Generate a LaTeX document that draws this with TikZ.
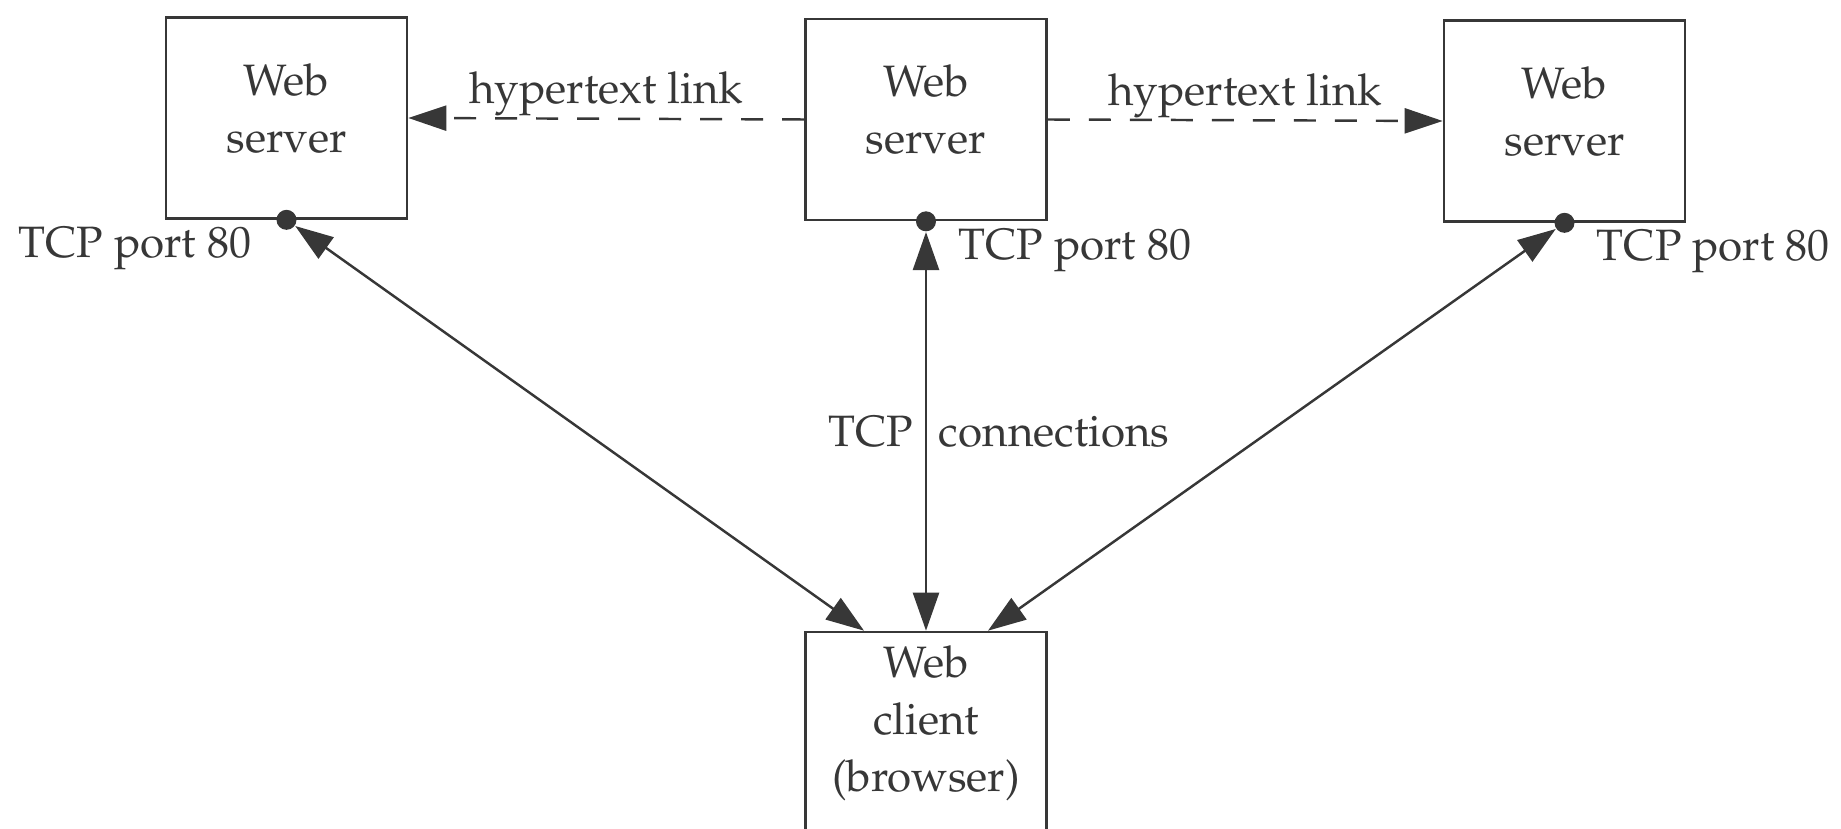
\documentclass[tikz,border=0pt]{standalone}
\usepackage[T1]{fontenc}
\usepackage{mathpazo}
\usepackage{tikz}
\usetikzlibrary{arrows.meta, positioning, calc}
\definecolor{inkgray}{RGB}{55, 55, 55}

\begin{document}
\begin{tikzpicture}[
    font=\fontsize{12.5}{16.2}\selectfont, text=inkgray,
    hostbox/.style={draw=inkgray, line width=0.75pt, minimum width=2.41cm,
                    minimum height=2.01cm, inner sep=0pt},
    hosttext/.style={align=center, anchor=north},
    port/.style={circle, fill=inkgray, inner sep=0pt, minimum size=0.2cm},
    link/.style={draw=inkgray, line width=0.7pt, dash pattern=on 0.22cm off 0.19cm,
                 -{Triangle[length=0.38cm, width=0.25cm]}},
    conn/.style={draw=inkgray, line width=0.7pt,
                 {Triangle[length=0.38cm, width=0.26cm]}-{Triangle[length=0.38cm, width=0.26cm]}}
]
    \useasboundingbox (0,0) rectangle (18.41,-8.29);
    % SERVERS (top row)
    \node[hostbox] (srvL) at (2.865,-1.18) {};
    \node[hosttext] (srvLtxt) at ([yshift=-0.35cm]srvL.north) {Web\\server};
    \node[hostbox] (srvM) at (9.26,-1.195) {};
    \node[hosttext] (srvMtxt) at ([yshift=-0.35cm]srvM.north) {Web\\server};
    \node[hostbox] (srvR) at (15.645,-1.21) {};
    \node[hosttext] (srvRtxt) at ([yshift=-0.35cm]srvR.north) {Web\\server};
    % CLIENT (bottom, runs off the page)
    \node[hostbox, minimum height=2.1cm] (client) at (9.26,-7.37) {};
    \node[hosttext] (clienttxt) at ([yshift=-0.03cm]client.north) {Web\\client\\(browser)};
    % Well-known ports
    \node[port] (portL) at (srvL.south) {};
    \node[port] (portM) at (srvM.south) {};
    \node[port] (portR) at (srvR.south) {};
    \node[anchor=base east] (tcpL) at ([xshift=-0.23cm, yshift=-0.38cm]portL.center) {TCP port 80};
    \node[anchor=base west] (tcpM) at ([xshift=0.20cm, yshift=-0.38cm]portM.center) {TCP port 80};
    \node[anchor=base west] (tcpR) at ([xshift=0.20cm, yshift=-0.38cm]portR.center) {TCP port 80};
    % Hypertext links between servers
    \draw[link] (srvM.west) -- (srvL.east)
        node[midway, anchor=base, yshift=0.15cm] {hypertext link};
    \draw[link] (srvM.east) -- (srvR.west)
        node[midway, anchor=base, yshift=0.15cm] {hypertext link};
    % TCP connections from the client
    \coordinate (inL) at ([xshift=-0.62cm]client.north);
    \coordinate (inM) at (client.north);
    \coordinate (inR) at ([xshift=0.62cm]client.north);
    \draw[conn] (portL) -- (inL);
    \draw[conn] (portM) -- (inM)
        node[midway, left] {TCP} node[midway, right] {connections};
    \draw[conn] (portR) -- (inR);
\end{tikzpicture}
\end{document}
